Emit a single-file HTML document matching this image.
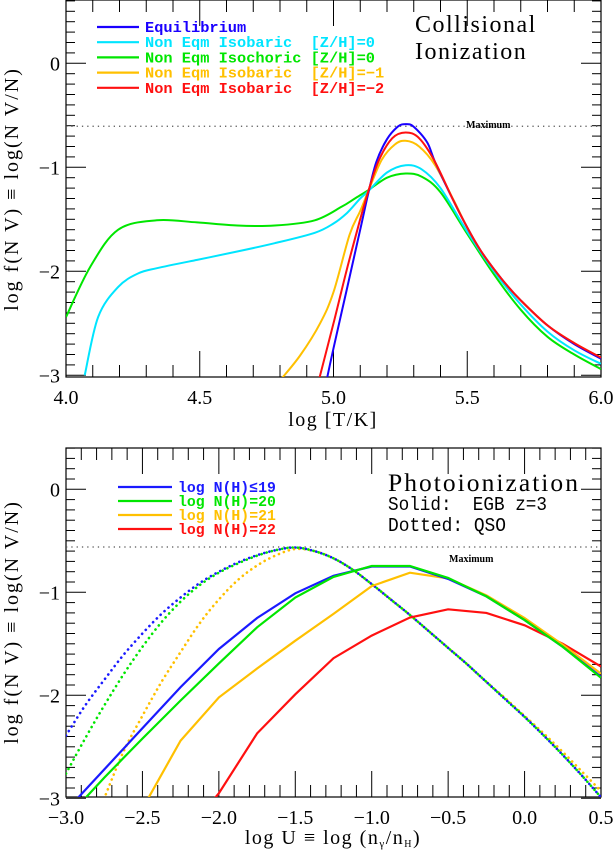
<!DOCTYPE html>
<html><head><meta charset="utf-8"><style>
html,body{margin:0;padding:0;background:#fff;overflow:hidden;width:616px;height:853px;}
svg{display:block;font-family:"Liberation Serif",serif;overflow:hidden;}
.pre{white-space:pre;}
</style></head><body>
<svg id="fig" width="616" height="853" viewBox="0 0 616 853" xmlns="http://www.w3.org/2000/svg">
<defs>
<clipPath id="c1"><rect x="66" y="0" width="535" height="377"/></clipPath>
<clipPath id="c2"><rect x="66" y="448" width="535" height="349"/></clipPath>
</defs>
<g id="p1"></g>
<g id="p2"></g>
</svg>
<script>
// ---------- Top panel data ----------
const topXTicks = [4.0, 4.5, 5.0, 5.5, 6.0];
const topXTickLabels = ["4.0", "4.5", "5.0", "5.5", "6.0"];
const yTicks = [0, -1, -2, -3];
const yTickLabels = ["0", "\u22121", "\u22122", "\u22123"];
const eqT = [4.97,5.0,5.05,5.1,5.13,5.16,5.2,5.24,5.27,5.3,5.35,5.38,5.45,5.5,5.55,5.6,5.65,5.7,5.8,5.9,6.0];
const eqV = [-3.1,-2.74,-2.17,-1.6,-1.25,-0.95,-0.73,-0.61,-0.585,-0.61,-0.76,-0.95,-1.33,-1.58,-1.8,-1.98,-2.14,-2.28,-2.52,-2.7,-2.84];
const redT = [4.94,5.0,5.05,5.1,5.13,5.17,5.22,5.27,5.32,5.38,5.45,5.5,5.55,5.6,5.65,5.7,5.8,5.9,6.0];
const redV = [-3.1,-2.5,-1.98,-1.5,-1.23,-0.93,-0.72,-0.665,-0.72,-0.95,-1.33,-1.58,-1.8,-1.98,-2.14,-2.28,-2.52,-2.69,-2.83];
const orT = [4.8,4.875,4.95,5.0,5.06,5.1,5.13,5.18,5.23,5.27,5.32,5.38,5.45,5.5,5.55,5.6,5.65,5.7,5.8,5.9,6.0];
const orV = [-3.05,-2.81,-2.5,-2.2,-1.65,-1.42,-1.23,-0.93,-0.78,-0.745,-0.8,-0.98,-1.32,-1.58,-1.8,-1.98,-2.14,-2.28,-2.52,-2.69,-2.83];
const cyT = [4.07,4.12,4.195,4.27,4.34,4.49,4.64,4.78,4.93,5.0,5.05,5.1,5.13,5.2,5.27,5.33,5.4,5.5,5.6,5.7,5.8,5.9,6.0];
const cyV = [-3.0,-2.44,-2.15,-2.02,-1.97,-1.89,-1.81,-1.73,-1.63,-1.54,-1.44,-1.3,-1.23,-1.05,-0.98,-1.02,-1.2,-1.62,-2.0,-2.32,-2.58,-2.76,-2.89];
const grT = [4.0,4.09,4.195,4.34,4.49,4.64,4.78,4.93,5.03,5.08,5.13,5.2,5.27,5.33,5.4,5.5,5.6,5.7,5.8,5.9,6.0];
const grV = [-2.44,-1.96,-1.6,-1.51,-1.53,-1.56,-1.56,-1.51,-1.38,-1.3,-1.22,-1.1,-1.06,-1.09,-1.24,-1.64,-2.03,-2.37,-2.63,-2.8,-2.94];
const topMax = -0.605;

// ---------- Bottom panel data ----------
const botXTicks = [-3.0,-2.5,-2.0,-1.5,-1.0,-0.5,0.0,0.5];
const botXTickLabels = ["\u22123.0","\u22122.5","\u22122.0","\u22121.5","\u22121.0","\u22120.5","0.0","0.5"];
const logU = [-3.0,-2.75,-2.5,-2.25,-2.0,-1.75,-1.5,-1.25,-1.0,-0.75,-0.5,-0.25,0.0,0.25,0.5];
const egb19 = [-3.12,-2.72,-2.32,-1.92,-1.55,-1.25,-1.01,-0.84,-0.75,-0.75,-0.87,-1.04,-1.27,-1.53,-1.82];
const egb20 = [-3.2,-2.8,-2.42,-2.05,-1.69,-1.34,-1.05,-0.85,-0.745,-0.745,-0.86,-1.04,-1.27,-1.53,-1.83];
const egb21 = [-3.9,-3.5,-3.1,-2.44,-2.02,-1.74,-1.47,-1.21,-0.94,-0.81,-0.865,-1.03,-1.25,-1.51,-1.79];
const egb22 = [-4.6,-4.2,-3.8,-3.4,-2.95,-2.37,-1.99,-1.64,-1.42,-1.245,-1.165,-1.2,-1.32,-1.5,-1.72];
const qsoU = [-3.0,-2.875,-2.75,-2.625,-2.5,-2.375,-2.25,-2.125,-2.0,-1.875,-1.75,-1.625,-1.5,-1.375,-1.25,-1.125,-1.0,-0.875,-0.75,-0.625,-0.5,-0.375,-0.25,-0.125,0.0,0.125,0.25,0.375,0.5];
const qso19 = [-2.39,-2.1,-1.85,-1.61,-1.4,-1.21,-1.05,-0.91,-0.8,-0.71,-0.64,-0.59,-0.565,-0.6,-0.67,-0.78,-0.92,-1.07,-1.22,-1.38,-1.54,-1.7,-1.87,-2.04,-2.21,-2.39,-2.58,-2.78,-2.99];
const qso20 = [-2.76,-2.42,-2.1,-1.8,-1.53,-1.29,-1.09,-0.93,-0.81,-0.72,-0.645,-0.59,-0.565,-0.6,-0.67,-0.78,-0.92,-1.07,-1.22,-1.38,-1.54,-1.7,-1.87,-2.04,-2.21,-2.39,-2.58,-2.78,-2.99];
const qso21 = [-3.9,-3.45,-3.0,-2.55,-2.2,-1.87,-1.58,-1.3,-1.07,-0.88,-0.74,-0.64,-0.58,-0.6,-0.67,-0.78,-0.92,-1.07,-1.22,-1.38,-1.54,-1.7,-1.87,-2.03,-2.2,-2.37,-2.55,-2.74,-2.93];
const botMax = -0.56;

const NS = "http://www.w3.org/2000/svg";
function mk(parent, tag, attrs){const e=document.createElementNS(NS,tag);for(const k in attrs)e.setAttribute(k,attrs[k]);parent.appendChild(e);return e;}

// trim leading/trailing points that fall below the floor, interpolating the crossing
function trimFloor(xv, yv, floor){
  const pts=[];
  for(let i=0;i<xv.length;i++){
    const below=yv[i]<floor;
    if(!below){
      if(i>0 && yv[i-1]<floor){
        const f=(floor-yv[i-1])/(yv[i]-yv[i-1]);
        pts.push([xv[i-1]+f*(xv[i]-xv[i-1]),floor]);
      }
      pts.push([xv[i],yv[i]]);
    } else if(i>0 && yv[i-1]>=floor){
      const f=(floor-yv[i-1])/(yv[i]-yv[i-1]);
      pts.push([xv[i-1]+f*(xv[i]-xv[i-1]),floor]);
    }
  }
  return pts;
}

function smoothPath(pts){
  let d="M"+pts[0][0].toFixed(1)+","+pts[0][1].toFixed(1);
  for(let i=0;i<pts.length-1;i++){
    const p0=pts[Math.max(0,i-1)],p1=pts[i],p2=pts[i+1],p3=pts[Math.min(pts.length-1,i+2)];
    const c1x=p1[0]+(p2[0]-p0[0])/6,c1y=p1[1]+(p2[1]-p0[1])/6;
    const c2x=p2[0]-(p3[0]-p1[0])/6,c2y=p2[1]-(p3[1]-p1[1])/6;
    d+=" C"+c1x.toFixed(1)+","+c1y.toFixed(1)+" "+c2x.toFixed(1)+","+c2y.toFixed(1)+" "+p2[0].toFixed(1)+","+p2[1].toFixed(1);
  }
  return d;
}
function linePath(pts){return pts.map((p,i)=>(i?"L":"M")+p[0].toFixed(1)+","+p[1].toFixed(1)).join(" ");}

function axesFrame(g, L,R,T,B, xs, ys, xMin,xMax, xMinorStep, xMajor, xLabels, yMajor, yLabels, yMinVal, yMaxVal){
  mk(g,"rect",{x:L,y:T,width:R-L,height:B-T,fill:"none",stroke:"#000","stroke-width":1.2});
  const tg=mk(g,"g",{stroke:"#000","stroke-width":1});
  const n=Math.round((xMax-xMin)/xMinorStep);
  for(let i=0;i<=n;i++){
    const v=xMin+i*xMinorStep; const x=xs(v);
    const major=xMajor.some(m=>Math.abs(m-v)<1e-6);
    const len=major?26:12;
    mk(tg,"line",{x1:x,y1:B,x2:x,y2:B-len});
    mk(tg,"line",{x1:x,y1:T,x2:x,y2:T+len});
  }
  for(let v=Math.ceil(yMinVal*10);v<=Math.floor(yMaxVal*10);v++){
    const y=ys(v/10); const major=(v%10===0); const len=major?20:9;
    mk(tg,"line",{x1:L,y1:y,x2:L+len,y2:y});
    mk(tg,"line",{x1:R,y1:y,x2:R-len,y2:y});
  }
  xMajor.forEach((v,i)=>{
    const t=mk(g,"text",{x:xs(v),y:B+27,"font-size":20,"text-anchor":"middle"});
    t.textContent=xLabels[i];
    
    
  });
  yMajor.forEach((v,i)=>{
    const t=mk(g,"text",{x:L-6,y:ys(v)+7,"font-size":20,"text-anchor":"end"});
    t.textContent=yLabels[i];
    
    
  });
}

// ---- Top panel ----
(function(){
  const g=document.getElementById("p1");
  const L=66,R=601,T=0,B=377;
  const xs=v=>L+(v-4.0)*(R-L)/2.0;
  const ys=v=>63.3-v*104;
  axesFrame(g,L,R,T,B,xs,ys,4.0,6.0,0.1,topXTicks,topXTickLabels,yTicks,yTickLabels,-3.0,0.6);
  const cg=mk(g,"g",{"clip-path":"url(#c1)",fill:"none","stroke-width":2});
  const ml=mk(cg,"line",{x1:L,y1:ys(topMax),x2:R,y2:ys(topMax),stroke:"#555","stroke-width":1.3,"stroke-dasharray":"1.3,4"});
  
  
  const series=[[grT,grV,"#00e600","isochoric-z0-curve"],[cyT,cyV,"#00e5ff","isobaric-z0-curve"],[orT,orV,"#ffc000","isobaric-z-1-curve"],[eqT,eqV,"#1a00ff","equilibrium-curve"],[redT,redV,"#ff1010","isobaric-z-2-curve"]];
  series.forEach(s=>{
    const pts=trimFloor(s[0],s[1],-3.05).map(p=>[xs(p[0]),ys(p[1])]);
    const p=mk(cg,"path",{d:smoothPath(pts),stroke:s[2]});
    
    
  });
  const mt=mk(g,"text",{x:466,y:128,"font-size":10,"font-weight":"bold"});mt.textContent="Maximum";
  
  
  const leg=[["Equilibrium","#1a00ff"],["Non Eqm Isobaric  [Z/H]=0","#00e5ff"],["Non Eqm Isochoric [Z/H]=0","#00e600"],["Non Eqm Isobaric  [Z/H]=\u22121","#ffc000"],["Non Eqm Isobaric  [Z/H]=\u22122","#ff1010"]];
  leg.forEach((e,i)=>{
    const y=27+i*15.2;
    const l=mk(g,"line",{x1:97,y1:y,x2:139,y2:y,stroke:e[1],"stroke-width":2.2});
    
    
    const t=mk(g,"text",{x:145,y:y+5,"font-size":15,fill:e[1],"class":"pre","font-weight":"bold","font-family":"Liberation Mono, monospace","textLength":e[0].length*9.2,"lengthAdjust":"spacingAndGlyphs"});
    t.textContent=e[0];
    
    
  });
  const t1=mk(g,"text",{x:415,y:32,"font-size":24,"letter-spacing":"1.5"});t1.textContent="Collisional";
  
  
  const t2=mk(g,"text",{x:415,y:59,"font-size":24,"letter-spacing":"1.5"});t2.textContent="Ionization";
  
  
  const xt=mk(g,"text",{x:333,y:426,"font-size":20,"text-anchor":"middle","letter-spacing":"1.5"});xt.textContent="log [T/K]";
  
  
  const yt=mk(g,"text",{x:0,y:0,"font-size":20,"text-anchor":"middle","letter-spacing":"2",transform:"translate(18,189) rotate(-90)"});yt.textContent="log f(N V) \u2261 log(N V/N)";
  
  
})();

// ---- Bottom panel ----
(function(){
  const g=document.getElementById("p2");
  const L=66,R=601,T=448,B=797;
  const xs=v=>L+(v+3.0)*(R-L)/3.5;
  const ys=v=>489.3-v*103;
  axesFrame(g,L,R,T,B,xs,ys,-3.0,0.5,0.1,botXTicks,botXTickLabels,yTicks,yTickLabels,-3.0,0.4);
  const cg=mk(g,"g",{"clip-path":"url(#c2)",fill:"none"});
  const ml=mk(cg,"line",{x1:L,y1:ys(botMax),x2:R,y2:ys(botMax),stroke:"#555","stroke-width":1.3,"stroke-dasharray":"1.3,4"});
  
  
  const dotted=[[qso21,"#ffc000","qso-nh21-curve"],[qso19,"#1a1aff","qso-nh19-curve"],[qso20,"#00e600","qso-nh20-curve"]];
  dotted.forEach(s=>{
    const pts=trimFloor(qsoU,s[0],-3.05).map(p=>[xs(p[0]),ys(p[1])]);
    const p=mk(cg,"path",{d:smoothPath(pts),stroke:s[1],"stroke-width":2.6,"stroke-dasharray":"0.1,5.2","stroke-linecap":"round"});
    
    
  });
  const solid=[[egb22,"#ff1010","egb-nh22-curve"],[egb21,"#ffc000","egb-nh21-curve"],[egb19,"#1a1aff","egb-nh19-curve"],[egb20,"#00e600","egb-nh20-curve"]];
  solid.forEach(s=>{
    const pts=trimFloor(logU,s[0],-3.05).map(p=>[xs(p[0]),ys(p[1])]);
    const p=mk(cg,"path",{d:linePath(pts),stroke:s[1],"stroke-width":2.2});
    
    
  });
  const mt=mk(g,"text",{x:449,y:562,"font-size":10,"font-weight":"bold"});mt.textContent="Maximum";
  
  
  const leg=[["log N(H)\u226419","#1a1aff"],["log N(H)=20","#00e600"],["log N(H)=21","#ffc000"],["log N(H)=22","#ff1010"]];
  leg.forEach((e,i)=>{
    const y=487+i*14;
    const l=mk(g,"line",{x1:118,y1:y,x2:172,y2:y,stroke:e[1],"stroke-width":2.2});
    
    
    const t=mk(g,"text",{x:178,y:y+5,"font-size":15,fill:e[1],"class":"pre","font-weight":"bold","font-family":"Liberation Mono, monospace","textLength":e[0].length*8.9,"lengthAdjust":"spacingAndGlyphs"});
    t.textContent=e[0];
    
    
  });
  const t1=mk(g,"text",{x:388,y:491,"font-size":25,"letter-spacing":"2","textLength":192,"lengthAdjust":"spacingAndGlyphs"});t1.textContent="Photoionization";
  
  
  const t2=mk(g,"text",{x:388,y:510,"font-size":19,"class":"pre","font-family":"Liberation Mono, monospace","textLength":159,"lengthAdjust":"spacingAndGlyphs"});t2.textContent="Solid:  EGB z=3";
  
  
  const t3=mk(g,"text",{x:388,y:531,"font-size":19,"class":"pre","font-family":"Liberation Mono, monospace","textLength":118,"lengthAdjust":"spacingAndGlyphs"});t3.textContent="Dotted: QSO";
  
  
  const xt=mk(g,"text",{x:333,y:844,"font-size":20,"text-anchor":"middle","letter-spacing":"1.5"});
  xt.innerHTML='log U \u2261 log (n<tspan font-size="11" dy="3">\u03b3</tspan><tspan dy="-3">/n</tspan><tspan font-size="10" dy="3">H</tspan><tspan dy="-3">)</tspan>';
  
  
  const yt=mk(g,"text",{x:0,y:0,"font-size":20,"text-anchor":"middle","letter-spacing":"2",transform:"translate(18,622) rotate(-90)"});yt.textContent="log f(N V) \u2261 log(N V/N)";
  
  
})();
</script>
</body></html>
